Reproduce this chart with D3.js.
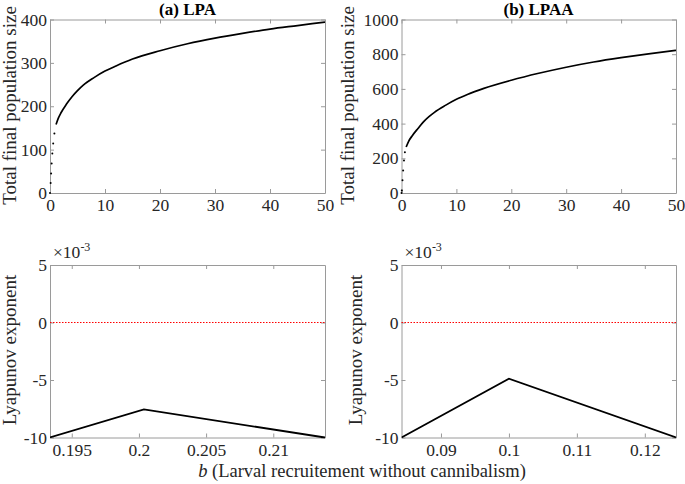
<!DOCTYPE html>
<html>
<head>
<meta charset="utf-8">
<script src="https://cdn.jsdelivr.net/npm/d3@7"></script>
<style>
  html, body { margin: 0; padding: 0; background: #fff; }
  svg { display: block; }
  text { font-family: "Liberation Serif", "Times New Roman", serif; fill: #262626; }
</style>
</head>
<body>
<svg id="chart" width="685" height="484"></svg>
<script>
// ---------------- Data ----------------
const bLPA     = [0, 0.12, 0.2, 0.3, 0.42, 0.58, 0.8, 1.1, 1.5, 2, 3, 4, 5, 6, 8, 10, 12, 15, 20, 25, 30, 35, 40, 45, 50];
const totalLPA = [0, 23, 45, 68, 91, 114, 137, 158, 172, 185, 205, 222, 236, 248, 266, 281, 293, 309, 328, 344, 357, 368, 378, 386, 394];
const bLPAA     = [0, 0.06, 0.18, 0.3, 0.45, 0.62, 0.85, 1.3, 2, 3, 4, 5, 6, 8, 10, 12, 15, 20, 25, 30, 35, 40, 45, 50];
const totalLPAA = [0, 15, 73, 130, 188, 235, 265, 298, 332, 372, 410, 440, 465, 505, 540, 568, 603, 650, 690, 725, 755, 780, 802, 822];
// below these b values the reference shows isolated dots, above them a continuous curve
const denseFromLPA = 1.1;
const denseFromLPAA = 0.85;

const bLyaLPA  = [0.19338, 0.20037, 0.21385];
const lyaLPA   = [-0.0100, -0.00756, -0.0100];
const bLyaLPAA = [0.08419, 0.1000, 0.12459];
const lyaLPAA  = [-0.0100, -0.00488, -0.0100];

const topXTicks = [0, 10, 20, 30, 40, 50];
const lpaYTicks = [0, 100, 200, 300, 400];
const lpaaYTicks = [0, 200, 400, 600, 800, 1000];
const lyaYTicks = [0.005, 0, -0.005, -0.010];
const lyaLPAXTicks = [0.195, 0.2, 0.205, 0.21];
const lyaLPAAXTicks = [0.09, 0.1, 0.11, 0.12];

const titles = ["(a) LPA", "(b) LPAA"];
const yLabelTop = "Total final population size";
const yLabelBottom = "Lyapunov exponent";

// ---------------- Layout ----------------
const svg = d3.select("#chart");
svg.append("rect").attr("width", 685).attr("height", 484).attr("fill", "#fff");

const AX = "#9a9a9a";
const FS = 17.5;
const SERIF = '"Liberation Serif", "Times New Roman", serif';

function panel(opts) {
  const {x0, x1, y0, y1, xDomain, yDomain, xTicks, yTicks, xFmt, yFmt, xPad} = opts;
  const x = d3.scaleLinear().domain(xDomain).range([x0, x1]);
  const y = d3.scaleLinear().domain(yDomain).range([y1, y0]);
  const g = svg.append("g");
  const clipId = "clip" + Math.round(x0) + "_" + Math.round(y0);
  svg.append("clipPath").attr("id", clipId).append("rect")
    .attr("x", x0).attr("y", y0 - 1).attr("width", x1 - x0).attr("height", y1 - y0 + 2);

  const tl = 4;
  const bottom = d3.axisBottom(x).tickValues(xTicks).tickSizeInner(-tl).tickSizeOuter(0).tickFormat(xFmt).tickPadding(xPad);
  const top = d3.axisTop(x).tickValues(xTicks).tickSizeInner(-tl).tickSizeOuter(0).tickFormat("");
  const left = d3.axisLeft(y).tickValues(yTicks).tickSizeInner(-tl).tickSizeOuter(0).tickFormat(yFmt).tickPadding(3);
  const right = d3.axisRight(y).tickValues(yTicks).tickSizeInner(-tl).tickSizeOuter(0).tickFormat("");

  const style = sel => {
    sel.attr("font-family", SERIF).attr("font-size", FS);
    sel.selectAll("path.domain").attr("stroke", AX).attr("stroke-width", 1);
    sel.selectAll(".tick line").attr("stroke", AX).attr("stroke-width", 1);
    sel.selectAll(".tick text").attr("fill", "#262626")
      .style("font-family", SERIF).style("font-size", FS + "px");
  };
  g.append("g").attr("transform", `translate(0,${y1})`).call(bottom).call(style);
  g.append("g").attr("transform", `translate(0,${y0})`).call(top).call(style);
  g.append("g").attr("transform", `translate(${x0},0)`).call(left).call(style);
  g.append("g").attr("transform", `translate(${x1},0)`).call(right).call(style);
  return {x, y, g, clipId};
}

const numFmt = d => String(+(+d).toFixed(4));
const milliFmt = d => String(Math.round(d * 1000));

const tlP = panel({x0: 50, x1: 325, y0: 19.5, y1: 193, xDomain: [0, 50], yDomain: [0, 400],
  xTicks: topXTicks, yTicks: lpaYTicks, xFmt: d3.format("d"), yFmt: d3.format("d"), xPad: 6});
const trP = panel({x0: 401.5, x1: 676, y0: 19.5, y1: 193, xDomain: [0, 50], yDomain: [0, 1000],
  xTicks: topXTicks, yTicks: lpaaYTicks, xFmt: d3.format("d"), yFmt: d3.format("d"), xPad: 6});
const blP = panel({x0: 50, x1: 325, y0: 265, y1: 437.5, xDomain: [bLyaLPA[0], bLyaLPA[bLyaLPA.length - 1]], yDomain: [-0.010, 0.005],
  xTicks: lyaLPAXTicks, yTicks: lyaYTicks, xFmt: numFmt, yFmt: milliFmt, xPad: 6});
const brP = panel({x0: 401.5, x1: 676, y0: 265, y1: 437.5, xDomain: [bLyaLPAA[0], bLyaLPAA[bLyaLPAA.length - 1]], yDomain: [-0.010, 0.005],
  xTicks: lyaLPAAXTicks, yTicks: lyaYTicks, xFmt: numFmt, yFmt: milliFmt, xPad: 6});

function topCurve(p, xs, ys, denseFrom) {
  const pts = xs.map((b, i) => ({b, v: ys[i]}));
  const dense = pts.filter(d => d.b >= denseFrom);
  const sparse = pts.filter(d => d.b < denseFrom);
  p.g.append("path").datum(dense)
    .attr("d", d3.line().x(d => p.x(d.b)).y(d => p.y(d.v)).curve(d3.curveMonotoneX))
    .attr("fill", "none").attr("stroke", "#000").attr("stroke-width", 1.7)
    .attr("clip-path", `url(#${p.clipId})`);
  p.g.selectAll("circle.s").data(sparse).join("circle")
    .attr("cx", d => p.x(d.b)).attr("cy", d => p.y(d.v)).attr("r", 1.0).attr("fill", "#000");
}
topCurve(tlP, bLPA, totalLPA, denseFromLPA);
topCurve(trP, bLPAA, totalLPAA, denseFromLPAA);

function lyaCurve(p, xs, ys) {
  const dom = p.x.domain();
  p.g.append("line").attr("x1", p.x(dom[0])).attr("x2", p.x(dom[1]))
    .attr("y1", p.y(0)).attr("y2", p.y(0))
    .attr("stroke", "#ff0000").attr("stroke-width", 1.2).attr("stroke-dasharray", "1.5,1.5");
  const pts = xs.map((b, i) => ({b, v: ys[i]}));
  p.g.append("path").datum(pts)
    .attr("d", d3.line().x(d => p.x(d.b)).y(d => p.y(d.v)))
    .attr("fill", "none").attr("stroke", "#000").attr("stroke-width", 1.8)
    .attr("clip-path", `url(#${p.clipId})`);
  const t = svg.append("text").attr("x", p.x(dom[0]) + 3).attr("y", 258).style("font-size", "17.5px");
  t.append("tspan").text("×10");
  t.append("tspan").attr("dy", -7).style("font-size", "12px").text("-3");
}
lyaCurve(blP, bLyaLPA, lyaLPA);
lyaCurve(brP, bLyaLPAA, lyaLPAA);

[[187.5, titles[0]], [538.5, titles[1]]].forEach(([cx, t]) => {
  svg.append("text").attr("x", cx).attr("y", 14.5).attr("text-anchor", "middle")
    .style("font-size", "17px").style("font-weight", "bold").style("fill", "#000").text(t);
});

function yLabel(x, cy, t) {
  svg.append("text").attr("transform", `translate(${x},${cy}) rotate(-90)`)
    .attr("text-anchor", "middle").style("font-size", "19px").text(t);
}
yLabel(15.5, 105.5, yLabelTop);
yLabel(354, 105.5, yLabelTop);
yLabel(16, 350, yLabelBottom);
yLabel(362, 350, yLabelBottom);

const xl = svg.append("text").attr("x", 362).attr("y", 477).attr("text-anchor", "middle")
  .style("font-size", "18.5px");
xl.append("tspan").style("font-style", "italic").text("b");
xl.append("tspan").text(" (Larval recruitement without cannibalism)");
</script>
</body>
</html>
